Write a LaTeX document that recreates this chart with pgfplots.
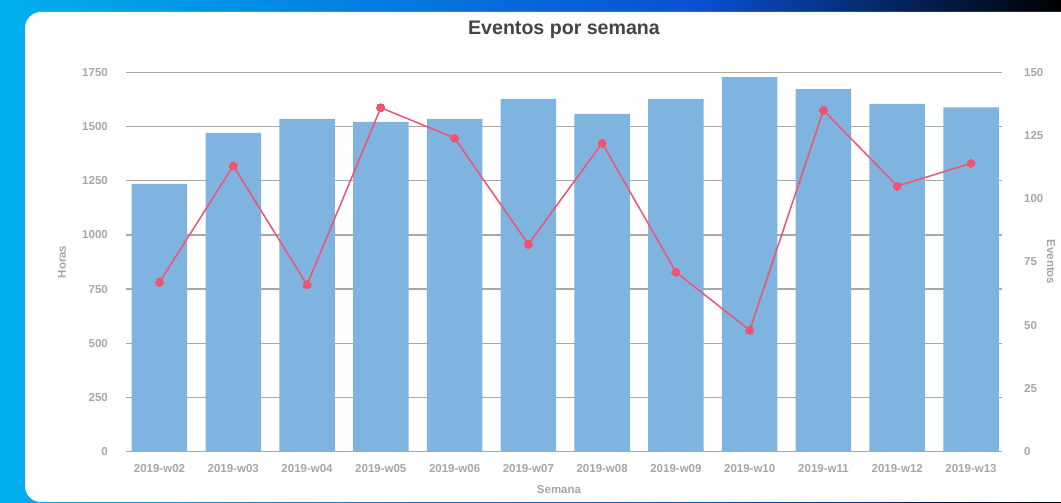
\documentclass[border=0pt]{standalone}
\usepackage{pgfplots}
\pgfplotsset{compat=1.18}
\usepackage{fontspec}
\setmainfont{Liberation Sans}
\definecolor{barblue}{RGB}{127,179,224}
\definecolor{linered}{RGB}{240,84,114}
\definecolor{gridgray}{RGB}{168,168,168}
\definecolor{ticktext}{RGB}{166,166,166}
\definecolor{titletext}{RGB}{68,68,68}
\definecolor{bgcyan}{RGB}{0,176,240}
\definecolor{bgblue}{RGB}{10,80,210}

\tikzset{lbl/.style={font=\fontsize{11.5}{13}\selectfont\bfseries, text=ticktext, inner sep=0pt}}
\pgfplotsset{
  common/.style={
    at={(126pt,51.3pt)}, anchor=south west,
    scale only axis, width=876pt, height=379.4pt,
    xmin=-0.454, xmax=11.42,
    major tick length=0pt,
    axis line style={draw=none},
    /pgf/number format/assume math mode=true,
    /pgf/number format/1000 sep={},
    tick label style={font=\fontsize{11.5}{13}\selectfont\bfseries, text=ticktext, inner sep=0pt},
  },
}

\begin{document}
\begin{tikzpicture}
\useasboundingbox (0pt,0pt) rectangle (1061pt,503pt);
\clip (0pt,0pt) rectangle (1061pt,503pt);
\shade[left color=bgcyan, right color=bgblue] (0pt,0pt) rectangle (700pt,503pt);
\shade[left color=bgblue, right color=black] (700pt,0pt) rectangle (1061pt,503pt);
\fill[white, rounded corners=16pt] (25pt,1pt) rectangle (1100pt,491pt);

\begin{axis}[common,
  ymin=0, ymax=1750,
  ytick={0,250,...,1750},
  xtick={0,...,11},
  xticklabels={2019-w02,2019-w03,2019-w04,2019-w05,2019-w06,2019-w07,2019-w08,2019-w09,2019-w10,2019-w11,2019-w12,2019-w13},
  ymajorgrids, grid style={gridgray, line width=1.5pt},
  yticklabel style={anchor=east, xshift=-18pt},
  xticklabel style={anchor=north, yshift=-13pt},
  title={Eventos por semana},
  title style={at={(axis description cs:0.5,1)}, anchor=center, yshift=37pt,
    font=\fontsize{19.6}{22}\selectfont\bfseries, text=titletext},
  xlabel={Semana},
  ylabel={Horas},
  every axis x label/.style={lbl, at={(axis description cs:0.4943,-0.1002)}, anchor=center},
  every axis y label/.style={lbl, at={(axis description cs:-0.0731,0.5)}, anchor=center, rotate=90},
]
\addplot[ybar, bar width=55.5pt, fill=barblue, draw=none] coordinates {
 (0,1235) (1,1470) (2,1535) (3,1521) (4,1535) (5,1627)
 (6,1558) (7,1627) (8,1728) (9,1672) (10,1604) (11,1588)
};
\end{axis}

\begin{axis}[common,
  ymin=0, ymax=150,
  ytick={0,25,...,150},
  axis y line*=right, axis x line=none,
  yticklabel style={anchor=west, xshift=22pt},
  ylabel={Eventos},
  every axis y label/.style={lbl, at={(axis description cs:1.0559,0.5)}, anchor=center, rotate=-90},
]
\addplot[linered, line width=1.5pt, mark=*, mark size=4pt, mark options={fill=linered, draw=linered, line width=0pt}] coordinates {
 (0,67) (1,113) (2,66) (3,136) (4,124) (5,82)
 (6,122) (7,71) (8,48) (9,135) (10,105) (11,114)
};
\end{axis}
\end{tikzpicture}
\end{document}
